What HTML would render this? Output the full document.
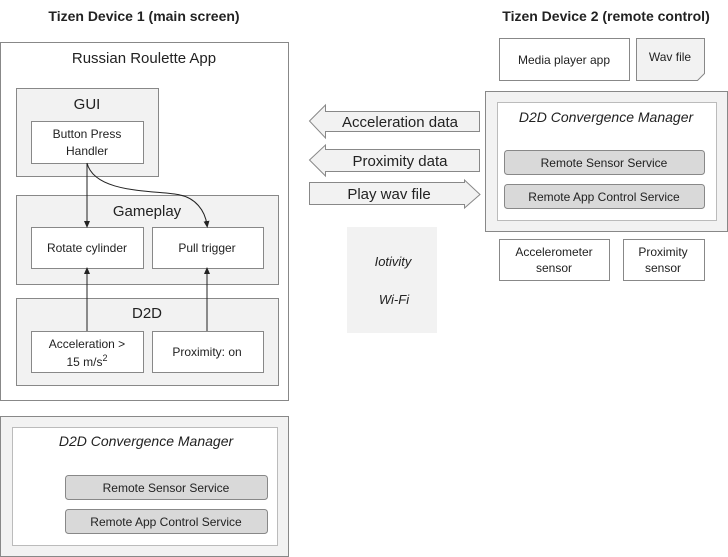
<!DOCTYPE html>
<html><head><style>body{margin:0;background:#fff}svg{display:block}</style></head><body>
<svg width="728" height="557" viewBox="0 0 728 557" xmlns="http://www.w3.org/2000/svg" font-family="Liberation Sans, DejaVu Sans, sans-serif" fill="#222">
<defs><marker id="a" markerWidth="8" markerHeight="8" refX="4" refY="4" orient="auto"><path d="M0,1 L7,4 L0,7 z" fill="#222"/></marker></defs>
<g stroke="#888" stroke-width="1">
<text x="144" y="21" font-size="14" text-anchor="middle" stroke="none" font-weight="bold" fill="#222">Tizen Device 1 (main screen)</text>
<rect x="0.5" y="42.5" width="288" height="358" fill="#fff"/>
<rect x="16.5" y="88.5" width="142" height="88" fill="#f2f2f2"/>
<rect x="31.5" y="121.5" width="112" height="42" fill="#fff"/>
<rect x="16.5" y="195.5" width="262" height="89" fill="#f2f2f2"/>
<rect x="31.5" y="227.5" width="112" height="41" fill="#fff"/>
<rect x="152.5" y="227.5" width="111" height="41" fill="#fff"/>
<rect x="16.5" y="298.5" width="262" height="87" fill="#f2f2f2"/>
<rect x="31.5" y="331.5" width="112" height="41" fill="#fff"/>
<rect x="152.5" y="331.5" width="111" height="41" fill="#fff"/>
<rect x="0.5" y="416.5" width="288" height="140" fill="#f2f2f2"/>
<rect x="12.5" y="427.5" width="265" height="118" fill="#fff" stroke="#bbb"/>
<rect x="65.5" y="475.5" width="202" height="24" rx="3" fill="#d9d9d9"/>
<rect x="65.5" y="509.5" width="202" height="24" rx="3" fill="#d9d9d9"/>
<rect x="499.5" y="38.5" width="130" height="42" fill="#fff"/>
<path d="M636.5,38.5 H704.5 V73.5 L697.5,80.5 H636.5 Z" fill="#f2f2f2"/>
<rect x="485.5" y="91.5" width="242" height="140" fill="#f2f2f2"/>
<rect x="497.5" y="102.5" width="219" height="118" fill="#fff" stroke="#bbb"/>
<rect x="504.5" y="150.5" width="200" height="24" rx="3" fill="#d9d9d9"/>
<rect x="504.5" y="184.5" width="200" height="24" rx="3" fill="#d9d9d9"/>
<rect x="499.5" y="239.5" width="110" height="41" fill="#fff"/>
<rect x="623.5" y="239.5" width="81" height="41" fill="#fff"/>
<path d="M309.5,121 L325.5,105 V111.5 H479.5 V131.5 H325.5 V138 Z" fill="#f2f2f2"/>
<path d="M309.5,160 L325.5,145 V149.5 H479.5 V171.5 H325.5 V176 Z" fill="#f2f2f2"/>
<path d="M309.5,182.5 H464.5 V180 L480,194.5 L464.5,208 V204.5 H309.5 Z" fill="#f2f2f2"/>
</g>
<rect x="347" y="227" width="90" height="106" fill="#f2f2f2"/>
<g stroke="#222" fill="none" stroke-width="1">
<line x1="87" y1="163" x2="87" y2="225" marker-end="url(#a)"/>
<path d="M87,163 C95,195 160,190 180,195 C195,198 205,210 207,225" marker-end="url(#a)"/>
<line x1="87" y1="331" x2="87" y2="270" marker-end="url(#a)"/>
<line x1="207" y1="331" x2="207" y2="270" marker-end="url(#a)"/>
</g>
<g font-size="12" text-anchor="middle" fill="#222">
<text x="144" y="63" font-size="15">Russian Roulette App</text>
<text x="87" y="109" font-size="15">GUI</text>
<text x="87" y="138">Button Press</text><text x="87" y="155">Handler</text>
<text x="147" y="216" font-size="15">Gameplay</text>
<text x="87" y="252">Rotate cylinder</text>
<text x="207" y="252">Pull trigger</text>
<text x="147" y="318" font-size="15">D2D</text>
<text x="87" y="348">Acceleration &gt;</text><text x="87" y="366">15 m/s<tspan font-size="9" dy="-5">2</tspan></text>
<text x="207" y="356">Proximity: on</text>
<text x="146" y="446" font-size="14" font-style="italic">D2D Convergence Manager</text>
<text x="166" y="492">Remote Sensor Service</text>
<text x="166" y="526">Remote App Control Service</text>
<text x="606" y="21" font-size="14" font-weight="bold">Tizen Device 2 (remote control)</text>
<text x="564" y="64">Media player app</text>
<text x="670" y="61">Wav file</text>
<text x="606" y="122" font-size="14" font-style="italic">D2D Convergence Manager</text>
<text x="604" y="167">Remote Sensor Service</text>
<text x="604" y="201">Remote App Control Service</text>
<text x="554" y="256">Accelerometer</text><text x="554" y="272">sensor</text>
<text x="663" y="256">Proximity</text><text x="663" y="272">sensor</text>
<text x="400" y="127" font-size="15">Acceleration data</text>
<text x="400" y="166" font-size="15">Proximity data</text>
<text x="389" y="199" font-size="15">Play wav file</text>
<text x="393" y="266" font-style="italic" font-size="13">Iotivity</text>
<text x="394" y="304" font-style="italic" font-size="13">Wi-Fi</text>
</g>
</svg>
</body></html>
